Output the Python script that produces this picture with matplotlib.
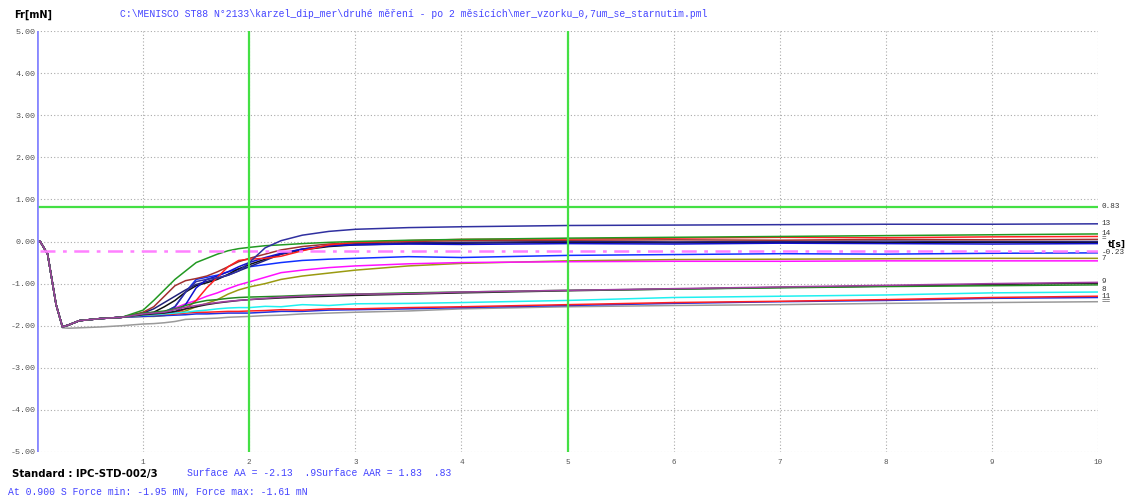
import numpy as np
import matplotlib.pyplot as plt

# time axis [s]
t_dip = [0, 0.03, 0.1, 0.18, 0.24, 0.3, 0.4, 0.6, 0.8]
t_run = [1.0, 1.1, 1.2, 1.3, 1.4, 1.5, 1.6, 1.7, 1.8, 1.9, 2.0, 2.15, 2.3,
         2.5, 2.75, 3.0, 3.5, 4.0, 5.0, 6.0, 7.0, 8.0, 9.0, 10.0]
t = t_dip + t_run

# common immersion dip [mN]
dip = [0, 0, -0.3, -1.5, -2.03, -1.98, -1.88, -1.83, -1.8]

# force curves after the dip [mN]
navy13 = [-1.75, -1.72, -1.68, -1.55, -1.2, -0.95, -0.9, -0.86, -0.8, -0.7, -0.5, -0.15, 0.02,
          0.15, 0.24, 0.29, 0.33, 0.35, 0.38, 0.39, 0.40, 0.41, 0.41, 0.42]
green = [-1.63, -1.4, -1.15, -0.9, -0.7, -0.5, -0.4, -0.3, -0.22, -0.17, -0.14, -0.1, -0.08,
         -0.05, -0.02, 0.0, 0.03, 0.05, 0.08, 0.1, 0.12, 0.14, 0.16, 0.18]
brown = [-1.68, -1.55, -1.3, -1.05, -0.93, -0.88, -0.82, -0.72, -0.6, -0.48, -0.4, -0.3, -0.2,
         -0.12, -0.06, -0.03, 0.0, 0.02, 0.03, 0.04, 0.03, 0.05, 0.04, 0.05]
red_hi = [-1.75, -1.75, -1.73, -1.7, -1.6, -1.4, -1.1, -0.85, -0.6, -0.45, -0.42, -0.4, -0.35,
          -0.22, -0.08, -0.02, 0.02, 0.05, 0.06, 0.08, 0.1, 0.09, 0.11, 0.12]
blue_hi = [-1.7, -1.72, -1.68, -1.55, -1.2, -0.9, -0.85, -0.8, -0.72, -0.65, -0.6, -0.55, -0.5,
           -0.45, -0.42, -0.4, -0.36, -0.38, -0.33, -0.31, -0.29, -0.3, -0.28, -0.27]
blue_mid = [-1.72, -1.72, -1.7, -1.68, -1.5, -1.1, -0.9, -0.82, -0.72, -0.6, -0.5, -0.38, -0.28,
            -0.18, -0.1, -0.08, -0.06, -0.07, -0.05, -0.06, -0.04, -0.05, -0.06, -0.05]
navy_mid = [-1.7, -1.6, -1.45, -1.3, -1.15, -1.02, -0.95, -0.88, -0.8, -0.7, -0.6, -0.45, -0.3,
            -0.18, -0.1, -0.05, -0.03, -0.02, 0.0, -0.01, 0.0, 0.01, 0.0, 0.0]
black_hi = [-1.72, -1.68, -1.55, -1.4, -1.2, -1.05, -0.98, -0.9, -0.78, -0.65, -0.55, -0.42, -0.3,
            -0.2, -0.12, -0.08, -0.05, -0.04, -0.02, -0.03, -0.02, -0.03, -0.02, -0.02]
magenta = [-1.75, -1.72, -1.68, -1.58, -1.48, -1.4, -1.3, -1.22, -1.12, -1.03, -0.96, -0.85, -0.74,
           -0.68, -0.62, -0.58, -0.53, -0.5, -0.48, -0.47, -0.47, -0.46, -0.46, -0.46]
olive = [-1.78, -1.78, -1.76, -1.72, -1.65, -1.55, -1.47, -1.38, -1.25, -1.15, -1.08, -1.0, -0.9,
         -0.82, -0.75, -0.68, -0.58, -0.52, -0.46, -0.43, -0.42, -0.41, -0.4, -0.4]
purple = [-1.72, -1.7, -1.68, -1.62, -1.56, -1.52, -1.48, -1.45, -1.42, -1.4, -1.38, -1.35, -1.32,
          -1.3, -1.27, -1.25, -1.24, -1.2, -1.16, -1.12, -1.08, -1.04, -1.0, -0.97]
dkgreen = [-1.7, -1.68, -1.65, -1.6, -1.52, -1.45, -1.4, -1.38, -1.35, -1.33, -1.32, -1.31, -1.3,
           -1.28, -1.26, -1.25, -1.22, -1.2, -1.16, -1.13, -1.1, -1.07, -1.05, -1.03]
black_lo = [-1.74, -1.72, -1.7, -1.66, -1.6, -1.55, -1.5, -1.46, -1.43, -1.4, -1.38, -1.36, -1.34,
            -1.32, -1.3, -1.28, -1.25, -1.22, -1.17, -1.13, -1.09, -1.06, -1.02, -0.99]
cyan = [-1.75, -1.74, -1.72, -1.7, -1.68, -1.65, -1.63, -1.6, -1.58, -1.57, -1.57, -1.54, -1.55,
        -1.5, -1.52, -1.48, -1.47, -1.45, -1.4, -1.33, -1.3, -1.27, -1.22, -1.2]
red_lo = [-1.75, -1.74, -1.73, -1.72, -1.7, -1.68, -1.68, -1.67, -1.66, -1.66, -1.65, -1.64, -1.62,
          -1.63, -1.6, -1.6, -1.57, -1.55, -1.5, -1.45, -1.42, -1.38, -1.33, -1.3]
blue_lo = [-1.78, -1.77, -1.76, -1.75, -1.74, -1.72, -1.72, -1.71, -1.7, -1.7, -1.7, -1.68, -1.66,
           -1.66, -1.63, -1.62, -1.6, -1.57, -1.52, -1.47, -1.43, -1.4, -1.35, -1.33]
gray = [0, 0, -0.3, -1.5, -2.05, -2.06, -2.05, -2.03, -2.0,
        -1.96, -1.95, -1.93, -1.9, -1.85, -1.84, -1.83, -1.82, -1.8, -1.79, -1.78, -1.76, -1.75,
        -1.72, -1.7, -1.68, -1.65, -1.6, -1.55, -1.52, -1.5, -1.47, -1.45, -1.43]

curves = [
    (dip + olive, '#9a9a10'), (dip + magenta, '#ff10ff'), (dip + blue_hi, '#1030ff'),
    (dip + black_hi, '#101010'), (dip + navy_mid, '#22227a'), (dip + blue_mid, '#1010d0'),
    (dip + brown, '#a03030'), (dip + red_hi, '#ff2020'), (dip + green, '#229922'),
    (dip + navy13, '#3030a0'),
    (gray, '#9a9a9a'), (dip + blue_lo, '#2030e0'), (dip + red_lo, '#ff2020'),
    (dip + cyan, '#20f0f0'), (dip + black_lo, '#202020'), (dip + dkgreen, '#228822'),
    (dip + purple, '#a040a0'),
]

right_labels = [('0.83', 0.83), ('13', 0.42), ('14', 0.2), ('=', 0.07), ('-0.23', -0.25),
                ('7', -0.4), ('9', -0.96), ('8', -1.13), ('11', -1.3), ('==', -1.43)]

fig = plt.figure(figsize=(11.35, 5), dpi=100)
ax = fig.add_axes([0.0326, 0.096, 0.935, 0.842])
ax.set_xlim(0, 10)
ax.set_ylim(-5, 5)

for y, c in curves:
    ax.plot(t, y, color=c, linewidth=1.1)

ax.plot([0.03, 10], [-0.23, -0.23], color='#ff80ff', linewidth=1.8, linestyle=(0, (6, 3, 1.5, 3)))
ax.axhline(0.83, color='#44e044', linewidth=1.6)
ax.axvline(2, color='#44e044', linewidth=1.6)
ax.axvline(5, color='#44e044', linewidth=1.6)
ax.axvline(0, color='#8888ff', linewidth=2)

for s in ax.spines.values():
    s.set_visible(False)
ax.set_xticks(range(0, 11))
ax.set_xticklabels([''] + [str(i) for i in range(1, 11)])
ax.set_yticks(range(-5, 6))
ax.set_yticklabels(['%.2f' % v for v in range(-5, 6)])
ax.tick_params(length=0, labelsize=6, labelcolor='#555555', pad=1)
for lab in ax.get_xticklabels() + ax.get_yticklabels():
    lab.set_family('Liberation Mono')
ax.tick_params(axis='x', pad=5, labelsize=5.5)
ax.grid(True, color='#aaaaaa', linewidth=0.8, linestyle=(0, (1, 2)))
ax.set_axisbelow(True)

tr = ax.get_yaxis_transform()
for txt, v in right_labels:
    ax.text(1.003, v, txt, transform=tr, fontsize=5.5, color='#333333', va='center',
            family='Liberation Mono')
ax.text(1.009, -0.06, 't[s]', transform=tr, fontsize=6.5, fontweight='bold', va='center')

fig.text(14 / 1135, 1 - 15 / 500, 'Fr[mN]', fontsize=7, fontweight='bold', va='center')
fig.text(120 / 1135, 1 - 14 / 500,
         'C:\\MENISCO ST88 N°2133\\karzel_dip_mer\\druhé měření - po 2 měsících\\mer_vzorku_0,7um_se_starnutim.pml',
         fontsize=7, color='#4444ff', va='center', family='Liberation Mono')
fig.text(12 / 1135, 1 - 474 / 500, 'Standard : IPC-STD-002/3', fontsize=7.3, fontweight='bold', va='center')
fig.text(187 / 1135, 1 - 473 / 500, 'Surface AA = -2.13  .9Surface AAR = 1.83  .83',
         fontsize=7, color='#4444ff', va='center', family='Liberation Mono')
fig.text(8 / 1135, 1 - 492 / 500, 'At 0.900 S Force min: -1.95 mN, Force max: -1.61 mN',
         fontsize=7, color='#4444ff', va='center', family='Liberation Mono')

fig.savefig('out.png', dpi=100)
